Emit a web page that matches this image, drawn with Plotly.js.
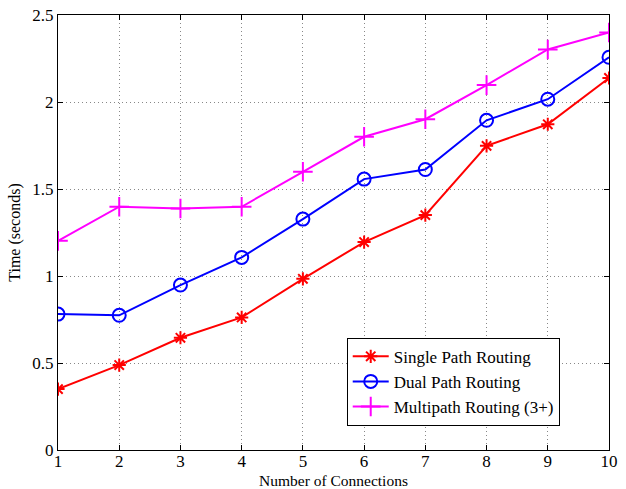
<!DOCTYPE html>
<html>
<head>
<meta charset="utf-8">
<script src="https://cdn.plot.ly/plotly-3.0.1.min.js"></script>
<style>html,body{margin:0;padding:0;background:#fff;}#chart{width:626px;height:489px;}</style>
</head>
<body>
<div id="chart"></div>
<script>
const connections = [1, 2, 3, 4, 5, 6, 7, 8, 9, 10];
const singlePath = [0.350, 0.488, 0.645, 0.762, 0.984, 1.195, 1.350, 1.748, 1.872, 2.138];
const dualPath = [0.781, 0.774, 0.948, 1.107, 1.327, 1.557, 1.612, 1.895, 2.016, 2.257];
const multiPath = [1.202, 1.398, 1.388, 1.398, 1.599, 1.800, 1.901, 2.097, 2.302, 2.399];
const seriesNames = ["Single Path Routing", "Dual Path Routing", "Multipath Routing (3+)"];
const xTicks = [1, 2, 3, 4, 5, 6, 7, 8, 9, 10];
const yTicks = [0, 0.5, 1, 1.5, 2, 2.5];
const yTickText = ["0", "0.5", "1", "1.5", "2", "2.5"];
const xTitle = "Number of Connections";
const yTitle = "Time (seconds)";

const font = {family: "Liberation Serif, Times New Roman, serif", size: 17, color: "#000"};
const titleFont = {family: "Liberation Serif, Times New Roman, serif", size: 16, color: "#000"};
const xTitleFont = {family: "Liberation Serif, Times New Roman, serif", size: 15.5, color: "#000"};

const traces = [
  {x: connections, y: singlePath, name: seriesNames[0], mode: "lines+markers",
   line: {color: "#ff0000", width: 2},
   marker: {symbol: "asterisk-open", size: 11, color: "#ff0000", line: {color: "#ff0000", width: 2}}},
  {x: connections, y: dualPath, name: seriesNames[1], mode: "lines+markers",
   line: {color: "#0000ff", width: 2},
   marker: {symbol: "circle-open", size: 13, color: "#0000ff", line: {color: "#0000ff", width: 2}}},
  {x: connections, y: multiPath, name: seriesNames[2], mode: "lines+markers",
   line: {color: "#ff00ff", width: 2},
   marker: {symbol: "cross-thin-open", size: 14, color: "#ff00ff", line: {color: "#ff00ff", width: 2}}}
];

const axisCommon = {
  showline: true, linecolor: "#000", linewidth: 1, mirror: "ticks",
  ticks: "inside", ticklen: 5, tickcolor: "#000",
  showgrid: true, gridcolor: "#888", griddash: "1px,3px", gridwidth: 1,
  zeroline: false, tickfont: font
};

const layout = {
  width: 626, height: 489,
  margin: {l: 57.5, r: 16.5, t: 14.7, b: 39},
  paper_bgcolor: "#fff", plot_bgcolor: "#fff",
  font: font,
  xaxis: Object.assign({}, axisCommon, {
    range: [1, 10], tickvals: xTicks, ticktext: xTicks.map(String),
    ticklabelstandoff: -4
  }),
  yaxis: Object.assign({}, axisCommon, {
    range: [0, 2.5], tickvals: yTicks, ticktext: yTickText,
    title: {text: yTitle, font: titleFont, standoff: 7}
  }),
  annotations: [{
    text: xTitle, font: xTitleFont, showarrow: false,
    xref: "paper", yref: "paper", x: 0.5, y: 0,
    xanchor: "center", yanchor: "middle", yshift: -30
  }],
  showlegend: true,
  legend: {
    x: 0.524, y: 0.258, xanchor: "left", yanchor: "top",
    bordercolor: "#000", borderwidth: 1, bgcolor: "#fff",
    font: font, tracegroupgap: 0, itemwidth: 36
  }
};

Plotly.newPlot("chart", traces, layout, {displayModeBar: false, staticPlot: true});
</script>
</body>
</html>
